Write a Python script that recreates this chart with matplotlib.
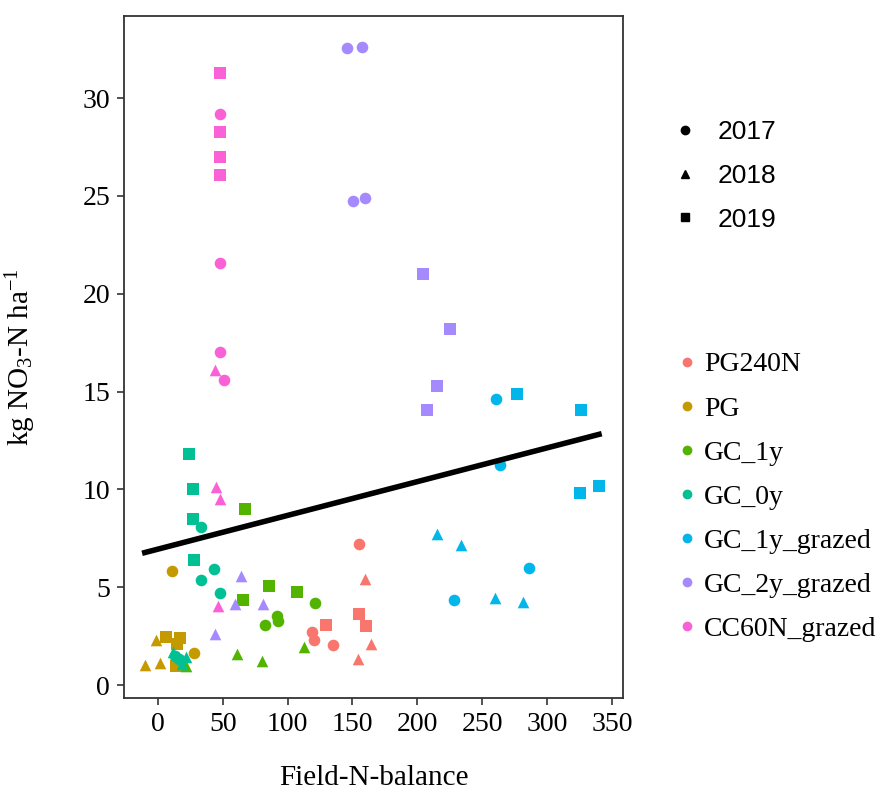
import matplotlib.pyplot as plt
from matplotlib.lines import Line2D
import numpy as np

plt.rcParams['font.family'] = 'Liberation Serif'
plt.rcParams['mathtext.fontset'] = 'custom'
plt.rcParams['mathtext.rm'] = 'Liberation Serif'
plt.rcParams['mathtext.it'] = 'Liberation Serif:italic'

treatments = ['PG240N', 'PG', 'GC_1y', 'GC_0y', 'GC_1y_grazed', 'GC_2y_grazed', 'CC60N_grazed']
colors = ['#F8766D', '#C49A00', '#53B400', '#00C094', '#00B6EB', '#A58AFF', '#FB61D7']
years = ['2017', '2018', '2019']
year_markers = {'2017': 'o', '2018': '^', '2019': 's'}

# field N balance (x) and nitrate leaching (y) per treatment and year
pg240n_x = {'2017': [155, 119, 120.5, 135], '2018': [160, 164, 154], '2019': [155, 160.5, 129.5]}
pg240n_y = {'2017': [7.2, 2.7, 2.3, 2.05], '2018': [5.4, 2.1, 1.35], '2019': [3.65, 3.0, 3.05]}

pg_x = {'2017': [11, 28], '2018': [-10, 1.5, -1], '2019': [6, 17.5, 15, 14, 18]}
pg_y = {'2017': [5.85, 1.65], '2018': [1.05, 1.15, 2.3], '2019': [2.45, 2.4, 2.1, 0.95, 1.0]}

gc1_x = {'2017': [121, 91.5, 93, 83], '2018': [61, 80, 113, 22], '2019': [66, 86, 107.5, 67]}
gc1_y = {'2017': [4.2, 3.55, 3.3, 3.05], '2018': [1.6, 1.25, 1.95, 0.95], '2019': [4.35, 5.05, 4.75, 9.0]}

gc0_x = {'2017': [43.5, 33.5, 48, 33, 13, 16], '2018': [22, 19, 12], '2019': [28, 27.5, 27, 24]}
gc0_y = {'2017': [5.95, 5.35, 4.7, 8.1, 1.5, 1.35], '2018': [1.45, 1.1, 1.7], '2019': [6.4, 8.5, 10.0, 11.8]}

gc1g_x = {'2017': [261, 263.5, 286, 228.5], '2018': [215, 233.5, 260, 281.5], '2019': [276.5, 326.5, 325.5, 340]}
gc1g_y = {'2017': [14.6, 11.25, 6.0, 4.35], '2018': [7.7, 7.15, 4.45, 4.25], '2019': [14.9, 14.05, 9.8, 10.2]}

gc2g_x = {'2017': [146, 157, 150.5, 159.5], '2018': [64, 59.5, 81, 44], '2019': [204.5, 225, 215, 207.5]}
gc2g_y = {'2017': [32.55, 32.6, 24.75, 24.9], '2018': [5.55, 4.15, 4.15, 2.6], '2019': [21.0, 18.2, 15.3, 14.05]}

cc60_x = {'2017': [48, 48, 48, 51], '2018': [44, 45, 48, 46.5], '2019': [48, 48, 48, 48]}
cc60_y = {'2017': [29.2, 21.55, 17.0, 15.6], '2018': [16.1, 10.1, 9.5, 4.05], '2019': [31.3, 28.25, 27.0, 26.05]}

all_x = [pg240n_x, pg_x, gc1_x, gc0_x, gc1g_x, gc2g_x, cc60_x]
all_y = [pg240n_y, pg_y, gc1_y, gc0_y, gc1g_y, gc2g_y, cc60_y]

fig = plt.figure(figsize=(8.89, 7.91), dpi=100)
ax = fig.add_axes([0.1395, 0.1176, 0.5613, 0.8622])

xs_all, ys_all = [], []
for xd, yd, col in zip(all_x, all_y, colors):
    for yr in years:
        ax.scatter(xd[yr], yd[yr], marker=year_markers[yr], color=col, s=70,
                   linewidths=0, zorder=3)
        xs_all += xd[yr]
        ys_all += yd[yr]

# linear trend over all points
slope, intercept = np.polyfit(xs_all, ys_all, 1)
xl = np.array([min(xs_all), max(xs_all)])
ax.plot(xl, intercept + slope * xl, color='black', lw=4, zorder=4)

ax.set_xlim(-26, 358.5)
ax.set_ylim(-0.66, 34.2)
ax.set_xticks(range(0, 351, 50))
ax.set_yticks(range(0, 31, 5))
ax.tick_params(labelsize=20, length=5, width=1.2, color='#333333', pad=5)
for s in ax.spines.values():
    s.set_color('#333333')
    s.set_linewidth(1.3)

ax.set_xlabel('Field-N-balance', fontsize=21, labelpad=20)
ax.set_ylabel('kg NO$_3$-N ha$^{-1}$', fontsize=21)
ax.yaxis.set_label_coords(-0.172, 0.5)

year_handles = [Line2D([], [], marker=year_markers[yr], color='black', ls='none', markersize=6)
                for yr in years]
leg1 = fig.legend(year_handles, years, loc='upper left', bbox_to_anchor=(672 / 889, 1 - 120 / 791),
                  frameon=False, prop={'family': 'Liberation Sans', 'size': 19},
                  labelspacing=0.75, handlelength=1.0, handletextpad=0.74,
                  borderpad=0, borderaxespad=0)

trt_handles = [Line2D([], [], marker='o', color=c, ls='none', markersize=6) for c in colors]
leg2 = fig.legend(trt_handles, treatments, loc='upper left', bbox_to_anchor=(676 / 889, 1 - 352 / 791),
                  frameon=False, prop={'size': 20}, labelspacing=0.67,
                  handlelength=0.8, handletextpad=0.2, borderpad=0, borderaxespad=0)

fig.savefig('out.png', dpi=100)
